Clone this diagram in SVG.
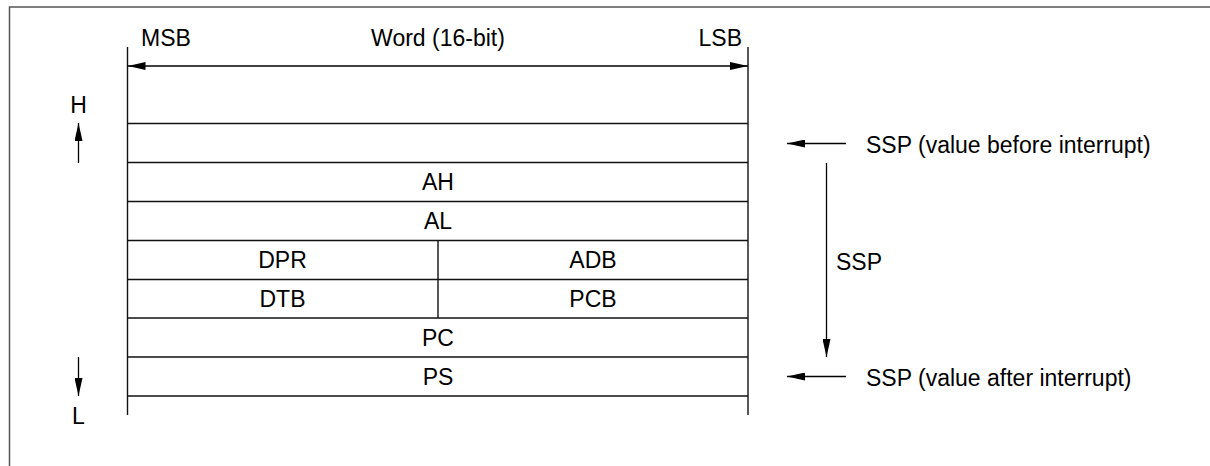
<svg xmlns="http://www.w3.org/2000/svg" width="1210" height="466" viewBox="0 0 1210 466">
  <style>
    .t { font-family: "Liberation Sans", Arial, sans-serif; font-size: 23px; fill: #000; }
    .m { text-anchor: middle; }
    .ln { stroke: #111; stroke-width: 1.4; fill: none; }
    .ar { stroke: #000; stroke-width: 1.3; fill: none; }
  </style>
  <defs>
    <marker id="ah" viewBox="0 0 18 8" refX="18" refY="4" markerWidth="18" markerHeight="8" markerUnits="userSpaceOnUse" orient="auto-start-reverse">
      <path d="M0,0 L18,4 L0,8 z" fill="#000"/>
    </marker>
  </defs>
  <rect width="1210" height="466" fill="#fff"/>
  <g id="frame">
    <path d="M9.5,466 V7 H1210" stroke="#555" stroke-width="1.5" fill="none"/>
  </g>
  <g id="table">
    <line class="ln" x1="127.5" y1="47" x2="127.5" y2="415"/>
    <line class="ln" x1="748" y1="47" x2="748" y2="415"/>
    <line class="ln" x1="127.5" y1="123.5" x2="748" y2="123.5"/>
    <line class="ln" x1="127.5" y1="162.5" x2="748" y2="162.5"/>
    <line class="ln" x1="127.5" y1="201.5" x2="748" y2="201.5"/>
    <line class="ln" x1="127.5" y1="240.5" x2="748" y2="240.5"/>
    <line class="ln" x1="127.5" y1="279.5" x2="748" y2="279.5"/>
    <line class="ln" x1="127.5" y1="318" x2="748" y2="318"/>
    <line class="ln" x1="127.5" y1="357" x2="748" y2="357"/>
    <line class="ln" x1="127.5" y1="396" x2="748" y2="396"/>
    <line class="ln" x1="438" y1="240.5" x2="438" y2="318"/>
  </g>
  <g id="header">
    <text class="t" x="141" y="46">MSB</text>
    <text class="t m" x="438" y="46">Word (16-bit)</text>
    <text class="t" x="742" y="46" text-anchor="end">LSB</text>
  </g>
  <g id="cells">
    <text class="t m" x="438" y="190">AH</text>
    <text class="t m" x="438" y="229">AL</text>
    <text class="t m" x="282.5" y="268">DPR</text>
    <text class="t m" x="593" y="268">ADB</text>
    <text class="t m" x="282.5" y="307">DTB</text>
    <text class="t m" x="593" y="307">PCB</text>
    <text class="t m" x="438" y="346">PC</text>
    <text class="t m" x="438" y="385">PS</text>
  </g>
  <g id="labels">
    <text class="t m" x="78.5" y="113">H</text>
    <text class="t m" x="78.5" y="424">L</text>
    <text class="t" x="866" y="153">SSP (value before interrupt)</text>
    <text class="t" x="836" y="270">SSP</text>
    <text class="t" x="866" y="386">SSP (value after interrupt)</text>
  </g>
  <g id="connectors">
    <line class="ar" x1="127.5" y1="66" x2="748" y2="66" marker-start="url(#ah)" marker-end="url(#ah)"/>
    <line class="ar" x1="78.5" y1="163" x2="78.5" y2="123" marker-end="url(#ah)"/>
    <line class="ar" x1="78.5" y1="357" x2="78.5" y2="396" marker-end="url(#ah)"/>
    <line class="ar" x1="846" y1="143.5" x2="787" y2="143.5" marker-end="url(#ah)"/>
    <line class="ar" x1="826.5" y1="163" x2="826.5" y2="357" marker-end="url(#ah)"/>
    <line class="ar" x1="846" y1="376.5" x2="787" y2="376.5" marker-end="url(#ah)"/>
  </g>
</svg>
